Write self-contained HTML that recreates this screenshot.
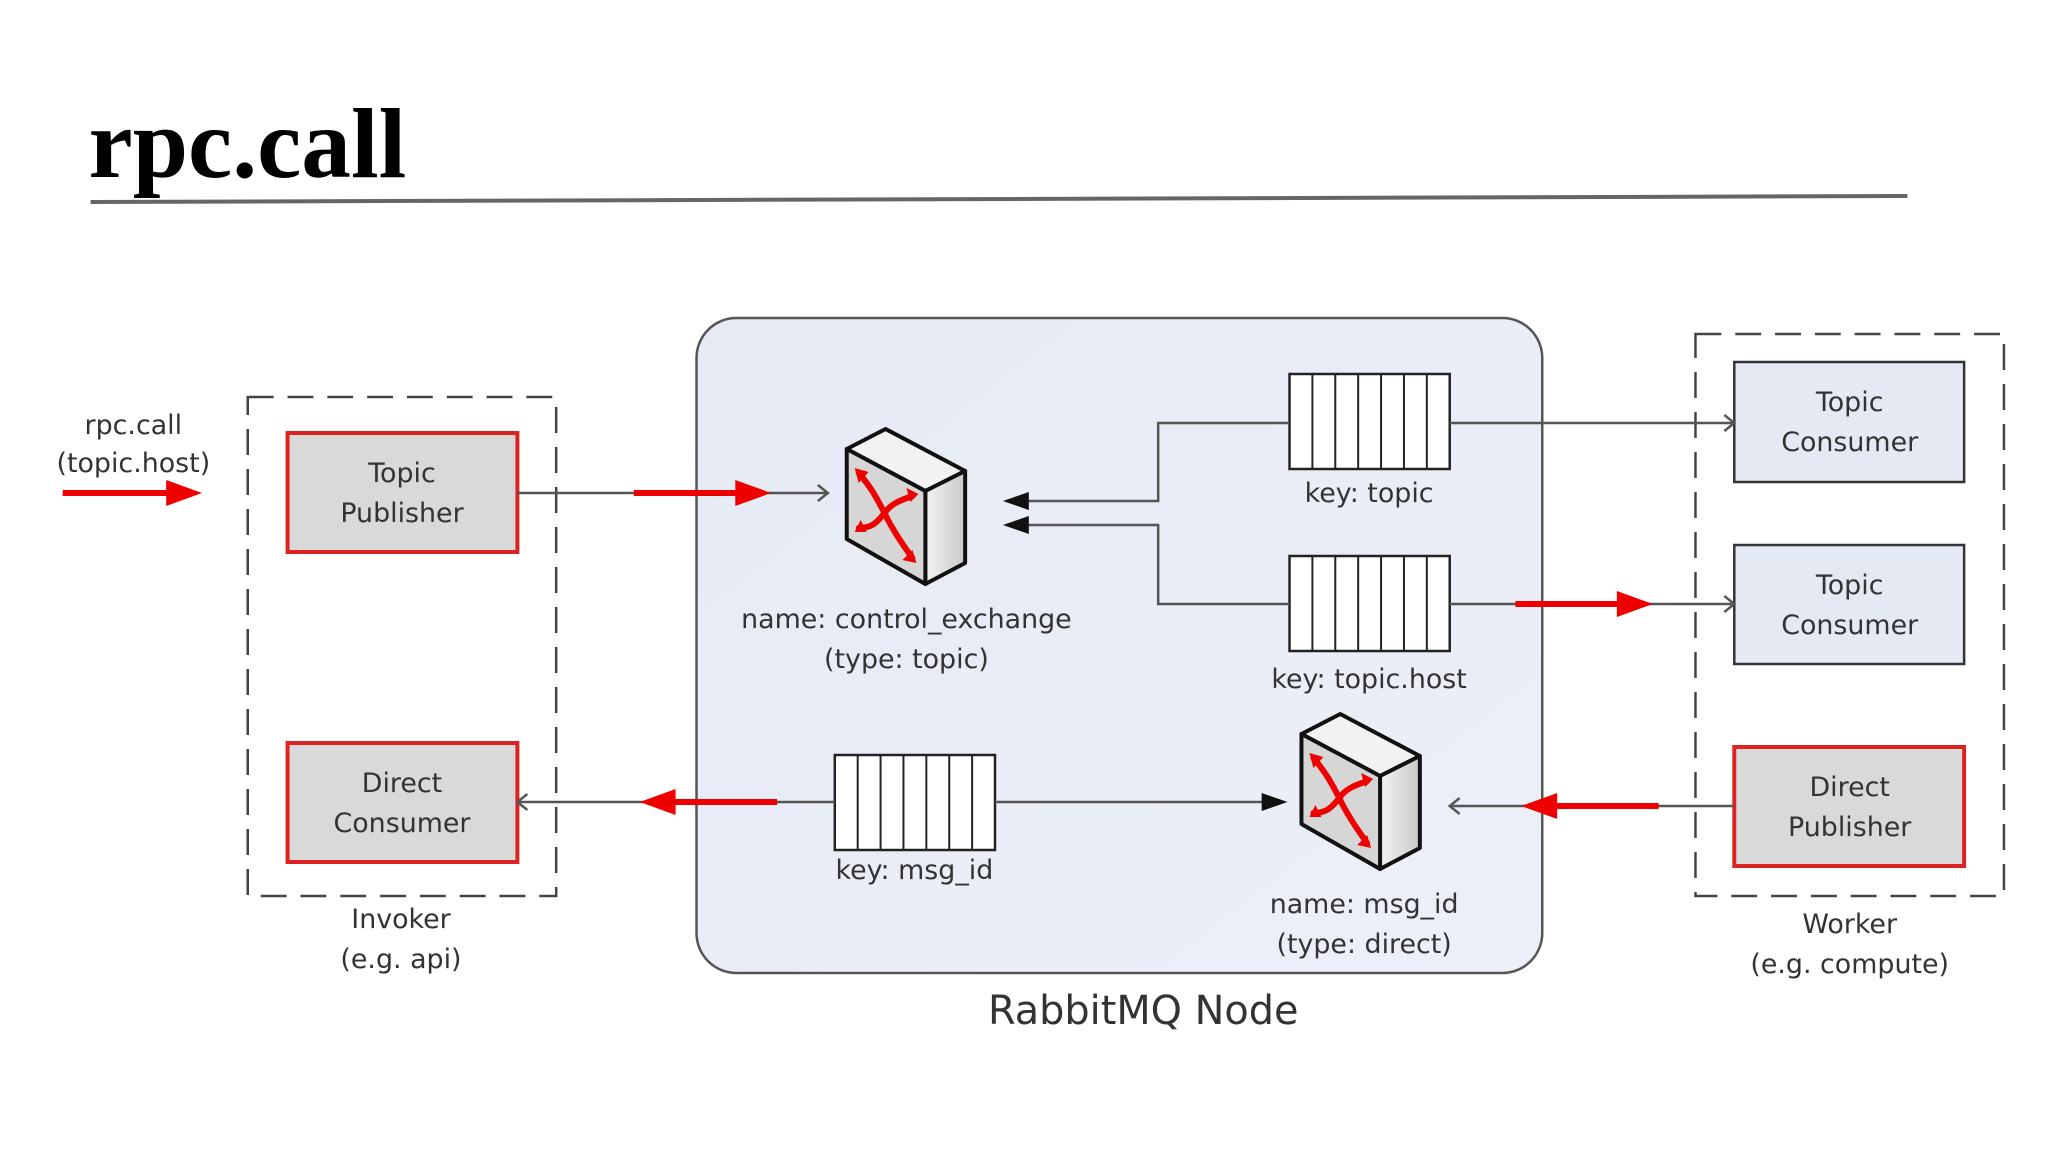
<!DOCTYPE html>
<html><head><meta charset="utf-8"><style>
html,body{margin:0;padding:0;background:#fff;}
svg{display:block;}
text{font-family:"DejaVu Sans","Liberation Sans",sans-serif;fill:#333;}
</style></head><body>
<svg width="2048" height="1152" viewBox="0 0 2048 1152" xmlns="http://www.w3.org/2000/svg">
<defs>
<linearGradient id="bg" x1="0" y1="0" x2="1" y2="1"><stop offset="0" stop-color="#e6eaf4"/><stop offset="1" stop-color="#edf0f8"/></linearGradient>
<linearGradient id="side" x1="0" y1="0" x2="1" y2="0"><stop offset="0" stop-color="#f4f4f4"/><stop offset="1" stop-color="#c8c8c8"/></linearGradient>
<g id="ex">
<polygon points="0,21 39,1 119,43 79,63" fill="#f2f2f2" stroke="#111" stroke-width="4" stroke-linejoin="round"/>
<polygon points="79,63 119,43 119,135 79,156" fill="url(#side)" stroke="#111" stroke-width="4" stroke-linejoin="round"/>
<polygon points="0,21 79,63 79,156 0,111" fill="#d6d6d6" stroke="#111" stroke-width="4" stroke-linejoin="round"/>
<g fill="none" stroke="#e00" stroke-width="6" stroke-linecap="round">
<path d="M12,45 C25,60 30,70 38,85 C45,100 55,115 66,130"/>
<path d="M12,100 C25,100 30,95 38,85 C45,75 55,72 66,68"/>
</g>
<g fill="#e00">
<polygon points="8,40 22,44 12,55"/>
<polygon points="70,135 56,132 66,122"/>
<polygon points="8,104 14,92 20,104"/>
<polygon points="72,66 60,60 64,74"/>
</g>
</g>
<g id="q">
<rect x="0" y="0" width="161" height="95" fill="#fff" stroke="#222" stroke-width="2.5"/>
<path d="M23,0V95M46,0V95M69,0V95M92,0V95M115,0V95M138,0V95" stroke="#222" stroke-width="2"/>
</g>
</defs>
<g transform="scale(0.995 1)">
<text x="89" y="177" style="font-family:'Liberation Serif',serif;font-weight:bold;font-size:100px;fill:#000">rpc.call</text>
<polygon points="91,200 1917,194 1917,198 91,204" fill="#666"/>

<rect x="700" y="318" width="850" height="655" rx="40" fill="url(#bg)" stroke="#555" stroke-width="2.5"/>
<text x="1149" y="1024" text-anchor="middle" font-size="40">RabbitMQ Node</text>

<rect x="249" y="397" width="310" height="499" fill="none" stroke="#444" stroke-width="2.5" stroke-dasharray="26,14"/>
<rect x="1704" y="334" width="310" height="562" fill="none" stroke="#444" stroke-width="2.5" stroke-dasharray="26,14"/>

<g font-size="27" text-anchor="middle">
<rect x="289" y="433" width="231" height="119" fill="#d9d9d9" stroke="#d22" stroke-width="4"/>
<text x="404" y="482">Topic</text><text x="404" y="522">Publisher</text>
<rect x="289" y="743" width="231" height="119" fill="#d9d9d9" stroke="#d22" stroke-width="4"/>
<text x="404" y="792">Direct</text><text x="404" y="832">Consumer</text>
<rect x="1743" y="362" width="231" height="120" fill="#e4e9f4" stroke="#333" stroke-width="2.5"/>
<text x="1859" y="411">Topic</text><text x="1859" y="451">Consumer</text>
<rect x="1743" y="545" width="231" height="119" fill="#e4e9f4" stroke="#333" stroke-width="2.5"/>
<text x="1859" y="594">Topic</text><text x="1859" y="634">Consumer</text>
<rect x="1743" y="747" width="231" height="119" fill="#d9d9d9" stroke="#d22" stroke-width="4"/>
<text x="1859" y="796">Direct</text><text x="1859" y="836">Publisher</text>

<text x="134" y="434">rpc.call</text><text x="134" y="472">(topic.host)</text>
<text x="403" y="928">Invoker</text><text x="403" y="968">(e.g. api)</text>
<text x="1859" y="933">Worker</text><text x="1859" y="973">(e.g. compute)</text>
<text x="911" y="628">name: control_exchange</text><text x="911" y="668">(type: topic)</text>
<text x="1376" y="502">key: topic</text>
<text x="1376" y="688">key: topic.host</text>
<text x="919" y="879">key: msg_id</text>
<text x="1371" y="913">name: msg_id</text><text x="1371" y="953">(type: direct)</text>
</g>

<use href="#ex" x="851" y="428"/>
<use href="#ex" x="1308" y="713"/>
<use href="#q" x="1296" y="374"/>
<use href="#q" x="1296" y="556"/>
<use href="#q" x="839" y="755"/>

<g fill="none" stroke="#555" stroke-width="2.5">
<path d="M520,493H832"/><path d="M822,485L832,493L822,501"/>
<path d="M1296,423H1164V501H1030"/>
<path d="M1296,604H1164V525H1030"/>
<path d="M1457,423H1743"/><path d="M1733,415L1743,423L1733,431"/>
<path d="M1457,604H1743"/><path d="M1733,596L1743,604L1733,612"/>
<path d="M1000,802H1275"/>
<path d="M1743,806H1457"/><path d="M1467,798L1457,806L1467,814"/>
<path d="M839,802H520"/><path d="M530,794L520,802L530,810"/>
</g>
<g fill="#111">
<polygon points="1008,501 1034,492 1034,510"/>
<polygon points="1008,525 1034,516 1034,534"/>
<polygon points="1294,802 1268,793 1268,811"/>
</g>
<g stroke="#e00" stroke-width="6" fill="#e00">
<path d="M63,493H175"/><polygon stroke="none" points="203,493 167,480 167,506"/>
<path d="M637,493H745"/><polygon stroke="none" points="775,493 739,480 739,506"/>
<path d="M1523,604H1631"/><polygon stroke="none" points="1661,604 1625,591 1625,617"/>
<path d="M1667,806H1559"/><polygon stroke="none" points="1529,806 1565,793 1565,819"/>
<path d="M781,802H673"/><polygon stroke="none" points="643,802 679,789 679,815"/>
</g>
</g>
</svg>
</body></html>
